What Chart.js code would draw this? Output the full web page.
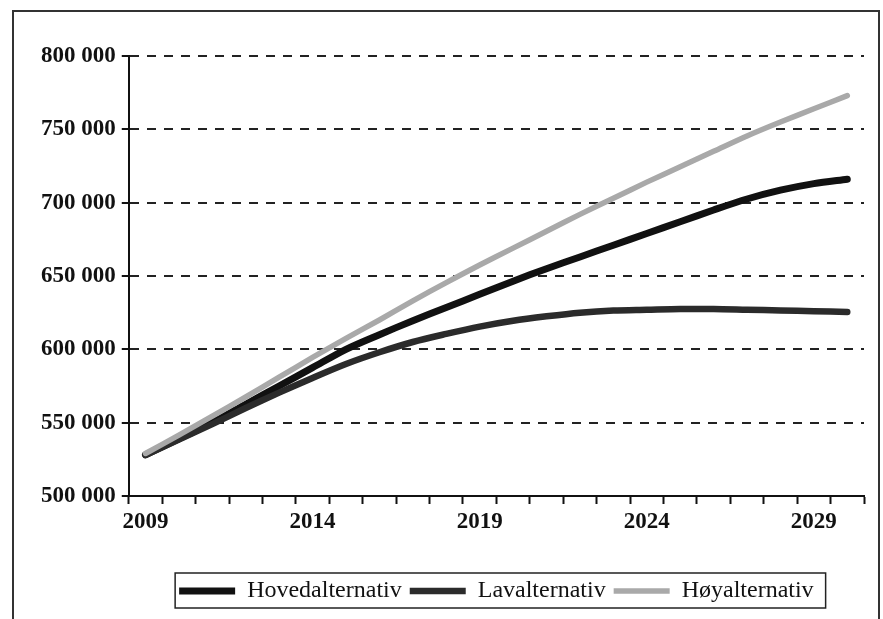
<!DOCTYPE html>
<html>
<head>
<meta charset="utf-8">
<script src="https://cdn.jsdelivr.net/npm/chart.js@4.4.1/dist/chart.umd.min.js"></script>
<style>
  html, body { margin: 0; padding: 0; background: #fff; }
  body { width: 883px; height: 619px; overflow: hidden; position: relative; }
  #frame { position: absolute; left: 12px; top: 10px; width: 864px; height: 700px; border: 2px solid #333; }
  #wrap { position: absolute; left: 0; top: 0; width: 883px; height: 619px; }
</style>
</head>
<body>
<div id="frame"></div>
<div id="wrap"><canvas id="chart"></canvas></div>
<script>
const years = ['2009', '2010', '2011', '2012', '2013', '2014', '2015', '2016', '2017', '2018', '2019',
               '2020', '2021', '2022', '2023', '2024', '2025', '2026', '2027', '2028', '2029', '2030'];
const shownYears = ['2009', '2014', '2019', '2024', '2029'];

const hoved = [528000, 539000, 550000, 562500, 575000, 587500, 600000, 610000, 619500, 628500, 637500,
               646500, 655000, 663000, 671000, 679000, 687000, 695000, 702500, 708500, 713000, 716000];
const lav   = [528000, 538500, 549000, 560000, 570500, 580500, 590000, 598000, 605000, 610500, 615500,
               619500, 622500, 625000, 626500, 627000, 627500, 627500, 627000, 626500, 626000, 625500];
const hoy   = [529000, 541500, 554500, 567500, 581000, 594500, 607500, 620000, 633000, 645500, 657500,
               669000, 680500, 692000, 703000, 714000, 724500, 735000, 745500, 755000, 764000, 773000];

const yMin = 500000;
const yMax = 800000;
const yStep = 50000;

const fmt = (v) => String(v).replace(/\B(?=(\d{3})+(?!\d))/g, ' ');

// legend centred under the plot area and boxed, like the original
const legendFrame = {
    id: 'legendFrame',
    afterLayout(chart) {
        const legend = chart.legend;
        if (!legend) return;
        legend.left = chart.chartArea.left;
        legend.right = chart.chartArea.right;
        legend.width = legend.right - legend.left;
    },
    afterDraw(chart) {
        const boxes = chart.legend && chart.legend.legendHitBoxes;
        if (!boxes || !boxes.length) return;
        const first = boxes[0];
        const last = boxes[boxes.length - 1];
        const ctx = chart.ctx;
        ctx.save();
        ctx.strokeStyle = '#222';
        ctx.lineWidth = 1.5;
        ctx.strokeRect(first.left - 4, first.top - 6, last.left + last.width - first.left + 16, first.height + 11);
        ctx.restore();
    }
};

document.addEventListener('DOMContentLoaded', () => {
    const ctx = document.getElementById('chart').getContext('2d');
    const tickFont = { family: '"Liberation Serif", "Times New Roman", serif', size: 23, weight: 'bold' };

    const line = (label, data, color, width, order) => ({
        label,
        data,
        borderColor: color,
        backgroundColor: color,
        borderWidth: width,
        borderCapStyle: 'round',
        pointRadius: 0,
        tension: 0.3,
        fill: false,
        order,
    });

    new Chart(ctx, {
        type: 'line',
        data: {
            labels: years,
            datasets: [
                line('Hovedalternativ', hoved, '#111111', 7, 3),
                line('Lavalternativ', lav, '#2b2b2b', 6.5, 2),
                line('Høyalternativ', hoy, '#a9a9a9', 5.5, 1),
            ]
        },
        options: {
            responsive: true,
            maintainAspectRatio: false,
            animation: false,
            layout: { padding: { top: 56, left: 35, right: 19, bottom: 6 } },
            plugins: {
                tooltip: { enabled: false },
                legend: {
                    position: 'bottom',
                    labels: {
                        usePointStyle: true,
                        pointStyle: 'line',
                        pointStyleWidth: 56,
                        padding: 8,
                        color: '#111',
                        font: { family: '"Liberation Serif", "Times New Roman", serif', size: 24 },
                        sort: (a, b) => a.datasetIndex - b.datasetIndex,
                    }
                }
            },
            scales: {
                x: {
                    offset: true,
                    grid: { offset: true, drawOnChartArea: false, drawTicks: true, tickLength: 8, tickColor: '#111', tickWidth: 2 },
                    border: { display: true, color: '#111', width: 2 },
                    ticks: {
                        autoSkip: false,
                        maxRotation: 0,
                        padding: 4,
                        color: '#111',
                        font: tickFont,
                        callback: (value, index) => shownYears.includes(years[index]) ? years[index] : '',
                    },
                    afterFit: (scale) => { scale.height = 75; },
                },
                y: {
                    min: yMin,
                    max: yMax,
                    grid: { color: '#222', lineWidth: 2, tickLength: 7, tickColor: '#111', tickWidth: 2, tickBorderDash: [] },
                    border: { display: true, color: '#111', width: 2, dash: [9, 8] },
                    ticks: {
                        stepSize: yStep,
                        padding: 6,
                        color: '#111',
                        font: tickFont,
                        callback: (v) => fmt(v),
                    }
                }
            }
        },
        plugins: [legendFrame]
    });
});
</script>
</body>
</html>
